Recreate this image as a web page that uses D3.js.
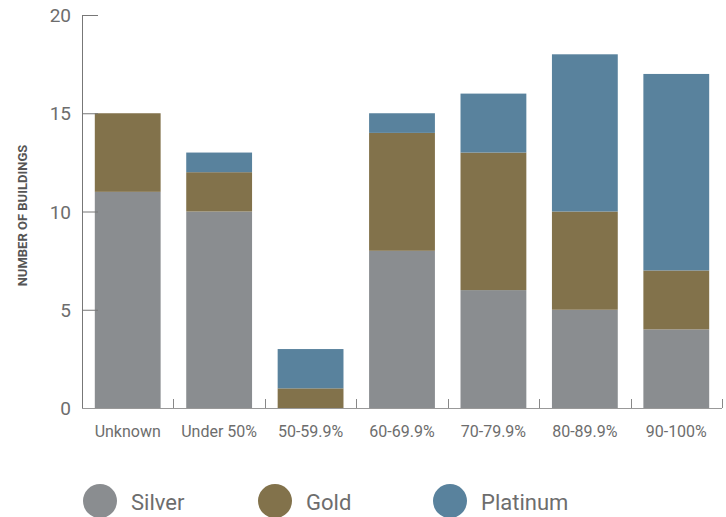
<!DOCTYPE html>
<html>
<head>
<meta charset="utf-8">
<script src="https://cdn.jsdelivr.net/npm/d3@7"></script>
<style>
  html, body { margin: 0; padding: 0; background: #fff; overflow: hidden; width: 100%; height: 100%; }
  #chart { width: 100vw; height: 100vh; }
  svg { display: block; }
</style>
</head>
<body>
<div id="chart"></div>
<script>
const categories = ["Unknown", "Under 50%", "50-59.9%", "60-69.9%", "70-79.9%", "80-89.9%", "90-100%"];
const silver = [11, 10, 0, 8, 6, 5, 4];
const gold = [4, 2, 1, 6, 7, 5, 3];
const platinum = [0, 1, 2, 1, 3, 8, 10];
const seriesNames = ["Silver", "Gold", "Platinum"];
const colors = ["#8a8d90", "#82724b", "#59829d"];
const yTicks = [0, 5, 10, 15, 20];

const width = 726, height = 517;
const margin = { top: 15, right: 4, bottom: 109, left: 82 };
const innerWidth = width - margin.left - margin.right;
const innerHeight = height - margin.top - margin.bottom;
const fontFamily = "Roboto, 'DejaVu Sans', sans-serif";

const rows = categories.map((c, i) => ({
  cat: c, Silver: silver[i], Gold: gold[i], Platinum: platinum[i]
}));
const stacked = d3.stack().keys(seriesNames)(rows);

// viewBox keeps everything inside whatever viewport the page gets
const svg = d3.select("#chart").append("svg")
  .attr("viewBox", [0, 0, width, height])
  .attr("preserveAspectRatio", "xMidYMin meet")
  .attr("width", "100%")
  .attr("height", "100%")
  .attr("font-family", fontFamily);

const xScale = d3.scaleBand().domain(categories).range([0, innerWidth]).paddingInner(0.28).paddingOuter(0.14);
const yScale = d3.scaleLinear().domain([0, 20]).range([innerHeight, 0]);
const color = d3.scaleOrdinal().domain(seriesNames).range(colors);

const g = svg.append("g").attr("transform", `translate(${margin.left},${margin.top})`);

// bars
g.selectAll("g.series")
  .data(stacked)
  .join("g")
  .attr("class", "series")
  .attr("fill", (d) => color(d.key))
  .selectAll("rect")
  .data((d) => d)
  .join("rect")
  .attr("x", (d) => xScale(d.data.cat))
  .attr("y", (d) => yScale(d[1]))
  .attr("width", xScale.bandwidth())
  .attr("height", (d) => yScale(d[0]) - yScale(d[1]));

// y axis, ticks pointing inward
const yAxis = d3.axisRight(yScale).tickValues(yTicks).tickSize(16).tickFormat(d3.format("d"));
const yGroup = g.append("g").call(yAxis).attr("font-family", fontFamily).attr("font-size", 19);
yGroup.select(".domain").attr("stroke", "#777").attr("d", `M0.5,0V${innerHeight + 0.5}`);
yGroup.selectAll(".tick line").attr("stroke", "#777").attr("x1", 0.5);
yGroup.selectAll(".tick text")
  .attr("x", -11)
  .attr("dy", "0.35em")
  .attr("text-anchor", "end")
  .attr("fill", "#6d6d6d");

// x axis with ticks at band boundaries
const xGroup = g.append("g").attr("transform", `translate(0,${innerHeight})`);
xGroup.append("line")
  .attr("x1", 0).attr("x2", innerWidth)
  .attr("y1", 0.5).attr("y2", 0.5)
  .attr("stroke", "#999");
const step = xScale.step();
const boundaries = categories.map((c) => xScale(c) + xScale.bandwidth() + (step - xScale.bandwidth()) / 2);
xGroup.selectAll("line.tick")
  .data(boundaries)
  .join("line")
  .attr("class", "tick")
  .attr("x1", (d) => Math.round(d) + 0.5).attr("x2", (d) => Math.round(d) + 0.5)
  .attr("y1", 0).attr("y2", -9)
  .attr("stroke", "#888");
xGroup.selectAll("text")
  .data(categories)
  .join("text")
  .attr("x", (d) => xScale(d) + xScale.bandwidth() / 2)
  .attr("y", 23)
  .attr("dy", "0.35em")
  .attr("text-anchor", "middle")
  .attr("fill", "#6d6d6d")
  .attr("font-size", 16)
  .text((d) => d);

// y axis title
svg.append("text")
  .attr("transform", `translate(22,${margin.top + innerHeight / 2 + 4}) rotate(-90)`)
  .attr("dy", "0.35em")
  .attr("text-anchor", "middle")
  .attr("fill", "#555")
  .attr("font-size", 13)
  .attr("font-weight", "bold")
  .text("NUMBER OF BUILDINGS");

// legend
const legend = svg.append("g")
  .selectAll("g")
  .data(seriesNames)
  .join("g")
  .attr("transform", (d, i) => `translate(${100 + i * 175},501)`);
legend.append("circle")
  .attr("r", 17)
  .attr("fill", (d) => color(d));
legend.append("text")
  .attr("x", 31)
  .attr("y", 1)
  .attr("dy", "0.35em")
  .attr("fill", "#6d6d6d")
  .attr("font-size", 22)
  .text((d) => d);
</script>
</body>
</html>
